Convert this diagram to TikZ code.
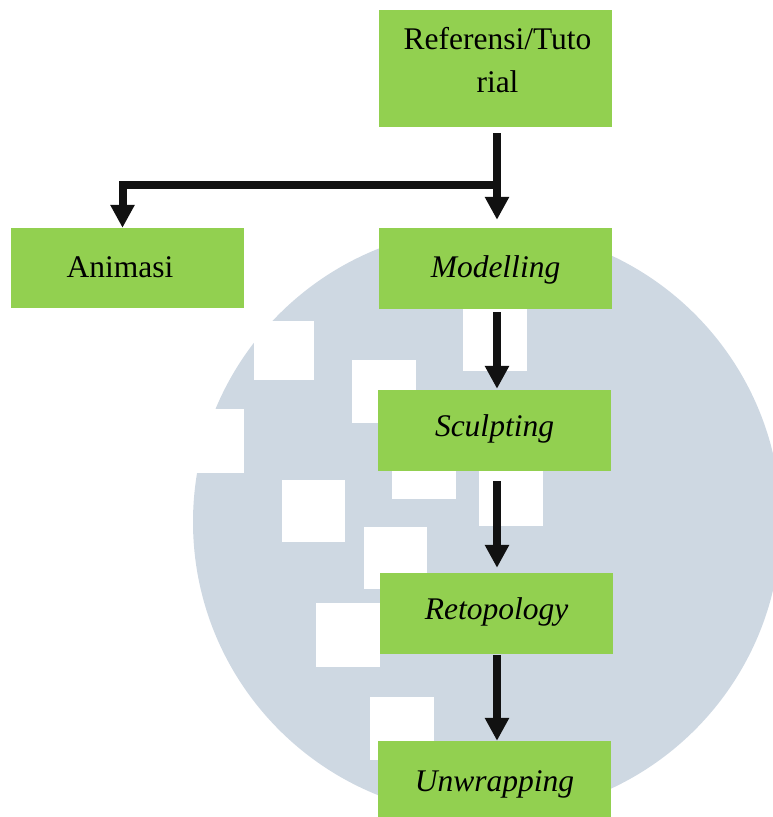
\documentclass[tikz,border=0pt]{standalone}
\usepackage{fontspec}
\setmainfont{Liberation Serif}
\usetikzlibrary{arrows.meta,calc}
\definecolor{boxgreen}{HTML}{92D050}
\definecolor{wm}{HTML}{CED8E2}
\definecolor{arrowblack}{HTML}{111111}
\begin{document}
\begin{tikzpicture}[x=1pt,y=-1pt,
  boxbase/.style={fill=boxgreen, draw=none, minimum width=233pt, inner sep=0pt,
    font=\fontsize{31.5}{43}\selectfont},
  box/.style={boxbase, minimum height=81pt, text height=20pt, text depth=9pt},
  wsq/.style={fill=white, draw=none},
  arr/.style={draw=arrowblack, line width=8pt, line join=miter,
    -{Triangle[length=23pt,width=23pt]}}]
\useasboundingbox (0,0) rectangle (773,817);
% watermark circle
\fill[wm] (487,522) circle[radius=294pt];
% white squares
\fill[wsq] (254,321) rectangle (314,380);
\fill[wsq] (352,360) rectangle (416,423);
\fill[wsq] (180,409) rectangle (244,473);
\fill[wsq] (282,480) rectangle (345,542);
\fill[wsq] (392,436) rectangle (456,499);
\fill[wsq] (364,527) rectangle (427,589);
\fill[wsq] (463,300) rectangle (527,371);
\fill[wsq] (479,463) rectangle (543,526);
\fill[wsq] (316,603) rectangle (380,667);
\fill[wsq] (370,697) rectangle (434,760);
% boxes
\node[boxbase, minimum height=117pt] (ref) at (495.5,68.5) {};
\node[anchor=base, inner sep=0pt] (reftext) at (497.5,49)
  {\begin{minipage}[t]{233pt}\fontsize{31.5}{43}\selectfont\centering Referensi/Tuto\\rial\end{minipage}};
\node[box, minimum height=80pt, text depth=2pt] (ani) at (127.5,268) {Animasi\hspace*{15pt}};
\node[box, text depth=2pt] (mod) at (495.5,268.5) {\itshape Modelling};
\node[box] (scu) at (494.5,430.5) {\itshape Sculpting};
\node[box] (ret) at (496.5,613.5) {\itshape Retopology};
\node[box, minimum height=89pt] (unw) at (494.5,785.5) {\itshape Unwrapping};
% connectors
\coordinate (axis) at (497,0);
\coordinate (j) at ($(ref.south -| axis)+(0,58)$);
\draw[arr, -] (j) -| ($(ani.north)+(-5,-20)$);
\draw[arr] ($(ani.north)+(-5,-25)$) -- ($(ani.north)+(-5,0)$);
\draw[arr, shorten <=6pt, shorten >=8pt] (ref.south -| axis) -- (mod.north -| axis);
\draw[arr, shorten <=3pt, shorten >=1pt] (mod.south -| axis) -- (scu.north -| axis);
\draw[arr, shorten <=10pt, shorten >=5pt] (scu.south -| axis) -- (ret.north -| axis);
\draw[arr, shorten <=1pt] (ret.south -| axis) -- (unw.north -| axis);
\end{tikzpicture}
\end{document}
